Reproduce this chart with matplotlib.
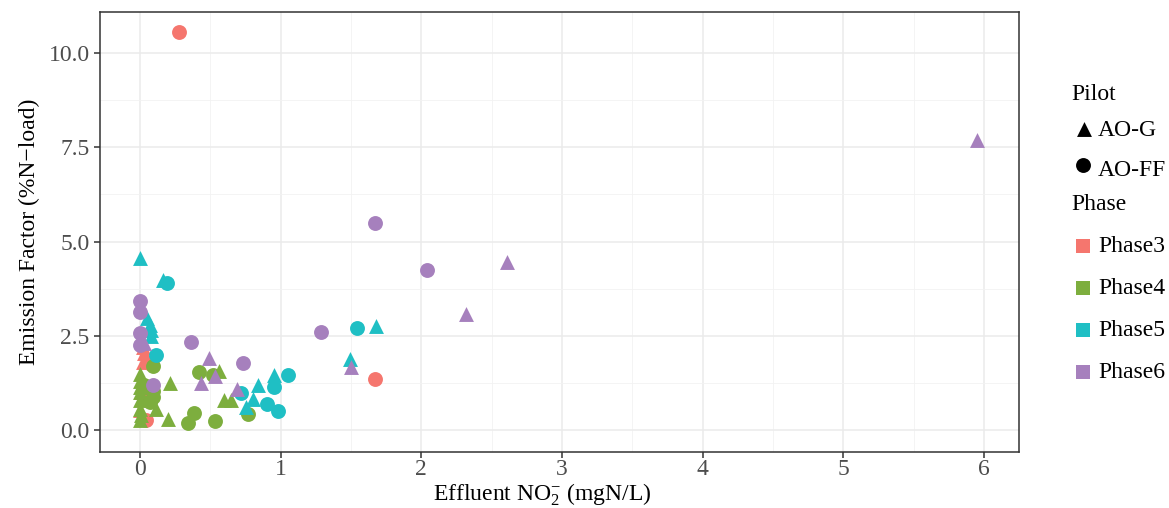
import numpy as np
import matplotlib.pyplot as plt
from matplotlib.ticker import MultipleLocator

plt.rcParams['font.family'] = ['Liberation Serif', 'DejaVu Serif']
plt.rcParams['mathtext.fontset'] = 'custom'
plt.rcParams['mathtext.rm'] = 'Liberation Serif'
plt.rcParams['mathtext.it'] = 'Liberation Serif:italic'

phases = ['Phase3', 'Phase4', 'Phase5', 'Phase6']
colors = ['#F5766E', '#7DAE3E', '#1FBFC4', '#A680BD']

# Pilot AO-FF (circles)
ff_x = {
    'Phase3': [0.28, 1.67, 0.06, 0.04, 0.02],
    'Phase4': [0.42, 0.52, 0.38, 0.34, 0.53, 0.77, 0.09, 0.09, 0.09, 0.03, 0.07],
    'Phase5': [0.19, 0.11, 1.54, 0.72, 0.90, 0.98, 1.05, 0.95],
    'Phase6': [0.0, 0.0, 0.0, 0.0, 0.36, 0.73, 0.09, 1.29, 1.67, 2.04],
}
ff_y = {
    'Phase3': [10.56, 1.36, 1.78, 0.27, 0.95],
    'Phase4': [1.54, 1.46, 0.45, 0.19, 0.24, 0.42, 1.70, 0.88, 1.05, 1.20, 0.75],
    'Phase5': [3.90, 1.99, 2.71, 0.98, 0.69, 0.50, 1.45, 1.14],
    'Phase6': [3.42, 3.13, 2.57, 2.25, 2.34, 1.78, 1.20, 2.60, 5.49, 4.26],
}
# Pilot AO-G (triangles)
g_x = {
    'Phase3': [0.02, 0.02, 0.01, 0.0, 0.03],
    'Phase4': [0.0, 0.0, 0.0, 0.0, 0.0, 0.0, 0.0, 0.21, 0.20, 0.11, 0.56, 0.60, 0.65, 0.01],
    'Phase5': [0.0, 0.16, 0.05, 0.07, 0.08, 0.08, 1.49, 1.68, 0.95, 0.84, 0.80, 0.75],
    'Phase6': [0.03, 0.49, 0.43, 0.53, 0.69, 1.50, 2.32, 2.61, 5.95],
}
g_y = {
    'Phase3': [2.20, 1.80, 1.00, 0.53, 2.05],
    'Phase4': [1.50, 1.30, 1.15, 1.00, 0.80, 0.55, 0.27, 1.25, 0.29, 0.55, 1.56, 0.80, 0.80, 0.40],
    'Phase5': [4.56, 3.98, 2.97, 2.79, 2.65, 2.50, 1.88, 2.76, 1.46, 1.19, 0.82, 0.61],
    'Phase6': [2.30, 1.90, 1.25, 1.43, 1.10, 1.68, 3.08, 4.46, 7.69],
}

fs = 17

fig = plt.figure(figsize=(11.69, 5.08), dpi=100)
ax = fig.add_axes([100/1169, 1-452/508, 919/1169, 440/508])

for p, c in zip(phases, colors):
    ax.scatter(g_x[p], g_y[p], marker='^', s=115, color=c, linewidths=0, zorder=3)
    ax.scatter(ff_x[p], ff_y[p], marker='o', s=115, color=c, linewidths=0, zorder=3)

ax.set_xlim(-0.285, 6.25)
ax.set_ylim(-0.58, 11.09)
ax.xaxis.set_major_locator(MultipleLocator(1))
ax.xaxis.set_minor_locator(MultipleLocator(0.5))
ax.yaxis.set_minor_locator(MultipleLocator(1.25))
ax.set_yticks([0, 2.5, 5, 7.5, 10])
ax.set_yticklabels(['0.0', '2.5', '5.0', '7.5', '10.0'])
ax.grid(True, which='major', color='#EBEBEB', linewidth=1.1, zorder=0)
ax.grid(True, which='minor', color='#F2F2F2', linewidth=0.6, zorder=0)
ax.set_axisbelow(True)
for s in ax.spines.values():
    s.set_color('#333333')
    s.set_linewidth(1.1)
ax.tick_params(which='major', length=4, width=1.1, color='#333333',
               labelcolor='#4D4D4D', labelsize=fs)
ax.tick_params(axis='x', pad=1)
ax.tick_params(which='minor', length=0)
ax.set_ylabel('Emission Factor (%N\u2212load)', fontsize=fs, labelpad=6)
fig.text(542/1169, 1-501/508, r'Effluent NO$_2^{\mathrm{-}}$ (mgN/L)', fontsize=fs,
         ha='center', va='baseline')

# legend drawn in figure pixel space
lg = fig.add_axes([0, 0, 1, 1])
lg.set_xlim(0, 1169)
lg.set_ylim(508, 0)
lg.axis('off')
lg.text(1071, 95, 'Pilot', fontsize=fs, va='center')
lg.scatter([1084], [129], marker='^', s=115, color='black', linewidths=0)
lg.text(1098, 130, 'AO-G', fontsize=fs, va='center')
lg.scatter([1083], [165], marker='o', s=115, color='black', linewidths=0)
lg.text(1098, 171, 'AO-FF', fontsize=fs, va='center')
lg.text(1071, 205, 'Phase', fontsize=fs, va='center')
for i, (p, c) in enumerate(zip(phases, colors)):
    yy = 246 + 42 * i
    lg.scatter([1083], [yy], marker='s', s=115, color=c, linewidths=0)
    lg.text(1098, yy, p, fontsize=fs, va='center')

fig.savefig('out.png', dpi=100)
